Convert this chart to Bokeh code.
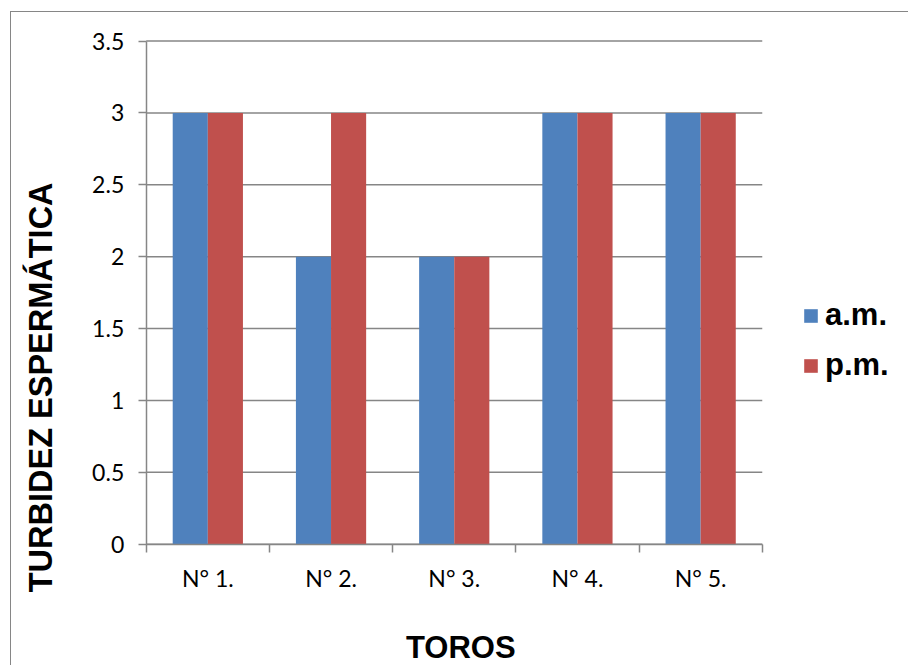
import math
from bokeh.plotting import figure
from bokeh.models import (FixedTicker, Legend, LegendItem, Label,
                          ColumnDataSource, Range1d)
from bokeh.transform import dodge
from bokeh.embed import file_html
from bokeh.resources import INLINE

# ---- data ----
categories = ["N° 1.", "N° 2.", "N° 3.", "N° 4.", "N° 5."]
am_values = [3, 2, 2, 3, 3]
pm_values = [3, 3, 2, 3, 3]
series_names = ["a.m.", "p.m."]
y_ticks = [0, 0.5, 1, 1.5, 2, 2.5, 3, 3.5]
y_tick_labels = ["0", "0.5", "1", "1.5", "2", "2.5", "3", "3.5"]
x_title = "TOROS"
y_title = "TURBIDEZ  ESPERMÁTICA"

BLUE = "#4F81BD"
RED = "#C0504D"
GRAY = "#868686"

n = len(categories)
centers = [i + 0.5 for i in range(n)]
src = ColumnDataSource(dict(x=centers, am=am_values, pm=pm_values))

# the frame covers the whole chart area; axes are pinned at x=0 / y=0
PX_X = 123.0      # pixels per category
PX_Y = 143.43     # pixels per unit of y
p = figure(width=898, height=654, output_backend="svg", toolbar_location=None,
           x_range=Range1d(-134.5 / PX_X, 762 / PX_X),
           y_range=Range1d(-122 / PX_Y, 530.5 / PX_Y),
           min_border=0, min_border_left=0, min_border_right=0,
           min_border_top=0, min_border_bottom=0, margin=(11, 0, 0, 10))
p.styles = {"border-left": "1.5px solid #868686", "border-top": "1.5px solid #868686",
            "box-sizing": "border-box"}
p.outline_line_color = None
p.background_fill_color = "white"
p.border_fill_color = "white"

# horizontal grid lines over the category span only
p.segment(x0=[0] * len(y_ticks), x1=[n] * len(y_ticks), y0=y_ticks, y1=y_ticks,
          line_color=GRAY, line_width=1.5)

bw = 0.285
r_am = p.vbar(x=dodge("x", -bw / 2), top="am", width=bw, source=src,
              fill_color=BLUE, line_color=None)
r_pm = p.vbar(x=dodge("x", bw / 2), top="pm", width=bw, source=src,
              fill_color=RED, line_color=None)

# y axis
p.yaxis.fixed_location = 0
p.yaxis.bounds = (0, 3.5)
p.yaxis.ticker = FixedTicker(ticks=y_ticks)
p.yaxis.major_label_overrides = {t: l for t, l in zip(y_ticks, y_tick_labels)}
p.yaxis.axis_line_color = GRAY
p.yaxis.axis_line_width = 1.5
p.yaxis.major_tick_line_color = GRAY
p.yaxis.major_tick_line_width = 1.5
p.yaxis.major_tick_out = 8
p.yaxis.major_tick_in = 0
p.yaxis.minor_tick_line_color = None
p.yaxis.major_label_standoff = 14
p.yaxis.major_label_text_font = "Lato"
p.yaxis.major_label_text_font_size = "23px"
p.yaxis.major_label_text_color = "black"

# x axis
p.xaxis.fixed_location = 0
p.xaxis.bounds = (0, n)
p.xaxis.ticker = FixedTicker(ticks=centers, minor_ticks=list(range(n + 1)))
p.xaxis.major_label_overrides = {c: l for c, l in zip(centers, categories)}
p.xaxis.axis_line_color = GRAY
p.xaxis.axis_line_width = 1.5
p.xaxis.major_tick_line_color = None
p.xaxis.major_tick_out = 0
p.xaxis.major_tick_in = 0
p.xaxis.minor_tick_line_color = GRAY
p.xaxis.minor_tick_line_width = 1.5
p.xaxis.minor_tick_out = 8
p.xaxis.minor_tick_in = 0
p.xaxis.major_label_standoff = 12
p.xaxis.major_label_text_font = "Lato"
p.xaxis.major_label_text_font_size = "23px"
p.xaxis.major_label_text_color = "black"

p.xgrid.grid_line_color = None
p.ygrid.grid_line_color = None

# axis titles
p.add_layout(Label(x=314 / PX_X, y=-103 / PX_Y, text=x_title, text_align="center",
                   text_baseline="alphabetic", text_font="Liberation Sans",
                   text_font_style="bold", text_font_size="31px", text_color="black"))
p.add_layout(Label(x=-105 / PX_X, y=161 / PX_Y, text=y_title, angle=math.pi / 2,
                   text_align="center", text_baseline="alphabetic",
                   text_font="Liberation Sans", text_font_style="bold",
                   text_font_size="32.5px", text_color="black"))

# legend
legend = Legend(items=[LegendItem(label=series_names[0], renderers=[r_am]),
                       LegendItem(label=series_names[1], renderers=[r_pm])],
                location=(791, 283), orientation="vertical",
                glyph_width=17, glyph_height=17, label_standoff=6,
                label_text_font="Liberation Sans", label_text_font_style="bold",
                label_text_font_size="31px", label_text_color="black",
                padding=0, margin=0, spacing=14, border_line_color=None,
                background_fill_alpha=0)
p.add_layout(legend, "center")

open("out.html", "w").write(file_html(p, INLINE))
